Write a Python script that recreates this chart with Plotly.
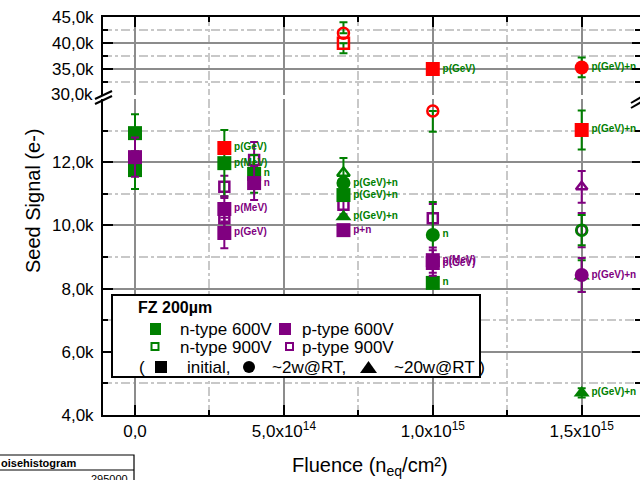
import plotly.graph_objects as go

# ---------------- data ----------------
# n-type 600V (green, filled)
N600_X = [0, 0, 3e14, 4e14, 7e14, 7e14, 7e14, 1e15, 1e15, 1.5e15, 1.5e15]
N600_Y = [12920, 11750, 11970, 11630, 11340, 10960, 10270, 9700, 8180, 8400, 4700]
N600_SYM = ['square', 'square', 'square', 'square', 'circle', 'square', 'triangle-up',
            'circle', 'square', 'triangle-up', 'triangle-up']
N600_ERR = [600, 600, 1050, 600, 0, 0, 0, 1040, 0, 500, 150]
N600_LBL = ['', '', 'p(MeV)', 'n', 'p(GeV)+n', 'p(GeV)+n', 'p(GeV)+n', 'n', 'n', '', 'p(GeV)+n']

# p-type 600V (purple, filled)
P600_X = [0, 3e14, 3e14, 4e14, 7e14, 1e15, 1e15, 1.5e15]
P600_Y = [12160, 10520, 9760, 11340, 9850, 8900, 8810, 8430]
P600_SYM = ['square', 'square', 'square', 'square', 'square', 'square', 'square', 'circle']
P600_ERR = [620, 400, 480, 540, 0, 400, 400, 540]
P600_LBL = ['', 'p(MeV)', 'p(GeV)', 'n', 'p+n', 'p(MeV)', 'p(GeV)', 'p(GeV)+n']

# n-type 900V (green, open)
N900_X = [7e14, 1.5e15]
N900_Y = [11660, 9850]
N900_SYM = ['triangle-up-open', 'circle-open']
N900_ERR = [470, 480]

# p-type 900V (purple, open)
P900_X = [3e14, 3e14, 4e14, 7e14, 1e15, 1.5e15, 1.5e15]
P900_Y = [11220, 10230, 12070, 10650, 10230, 11220, 9850]
P900_SYM = ['square-open', 'square-open', 'square-open', 'square-open', 'square-open',
            'triangle-up-open', 'circle-open']
P900_ERR = [350, 350, 570, 300, 450, 500, 540]

# red, filled
REDF_X = [3e14, 1e15, 1.5e15, 1.5e15]
REDF_Y = [12450, 35000, 35300, 13020]
REDF_SYM = ['square', 'square', 'circle', 'square']
REDF_ERR = [0, 400, 1900, 620]
REDF_LBL = ['p(GeV)', 'p(GeV)', 'p(GeV)+n', 'p(GeV)+n']

# red, open
REDO_X = [7e14, 7e14, 1e15]
REDO_Y = [41870, 39940, 13620]
REDO_SYM = ['circle-open', 'square-open', 'circle-open']
REDO_ERR_UP = [2100, 0, 0]
REDO_ERR_DN = [0, 1900, 660]

X_TICKS = [0, 5e14, 1e15, 1.5e15]
X_TICKTEXT = ['0,0', '5,0x10<sup>14</sup>', '1,0x10<sup>15</sup>', '1,5x10<sup>15</sup>']
X_MINOR = [2.5e14, 7.5e14, 1.25e15]
YLO_TICKS = [4000, 6000, 8000, 10000, 12000]
YLO_TICKTEXT = ['4,0k', '6,0k', '8,0k', '10,0k', '12,0k']
YLO_MINOR = [5000, 7000, 9000, 11000, 13000]
YUP_TICKS = [35000, 40000, 45000]
YUP_TICKTEXT = ['35,0k', '40,0k', '45,0k']
YUP_MINOR = [32500, 37500, 42500]

GREEN = '#008000'
PURPLE = '#800080'
RED = '#ff0000'
FONT = 'Liberation Sans, Arial, sans-serif'

# ---------------- geometry ----------------
W, H = 640, 480
ML, MR, MT, MB = 103, 0, 17, 65
PW, PH = W - ML - MR, H - MT - MB


def PX(px):
    return (px - ML) / PW


def PY(py):
    return (H - MB - py) / PH


SPLIT = 20000

fig = go.Figure()


def add_series(xs, ys, syms, ep, em, lbls, color, size, lw, ecolor, tcolor):
    for upper in (False, True):
        idx = [i for i, v in enumerate(ys) if (v > SPLIT) == upper]
        if not idx:
            continue
        fig.add_trace(go.Scatter(
            x=[xs[i] for i in idx], y=[ys[i] for i in idx],
            yaxis='y2' if upper else 'y',
            mode='markers+text',
            text=[lbls[i] for i in idx] if lbls else None,
            textposition='middle right',
            textfont=dict(family=FONT, size=10, color=tcolor, weight='bold'),
            marker=dict(symbol=[syms[i] for i in idx], size=size, color=color,
                        line=dict(width=lw, color=color)),
            error_y=dict(type='data', symmetric=False,
                         array=[ep[i] for i in idx], arrayminus=[em[i] for i in idx],
                         color=ecolor, thickness=2, width=4),
            cliponaxis=False, showlegend=False, hoverinfo='skip'))


add_series(REDO_X, REDO_Y, REDO_SYM, REDO_ERR_UP, REDO_ERR_DN, None, RED, 11, 2.5, GREEN, GREEN)
add_series(P900_X, P900_Y, P900_SYM, P900_ERR, P900_ERR, None, PURPLE, 10, 2.5, PURPLE, PURPLE)
add_series(N900_X, N900_Y, N900_SYM, N900_ERR, N900_ERR, None, GREEN, 11, 2.5, GREEN, GREEN)
add_series(N600_X, N600_Y, N600_SYM, N600_ERR, N600_ERR, N600_LBL, GREEN, 14, 0, GREEN, GREEN)
add_series(P600_X, P600_Y, P600_SYM, P600_ERR, P600_ERR, P600_LBL, PURPLE, 14, 0, PURPLE, PURPLE)
add_series(REDF_X, REDF_Y, REDF_SYM, REDF_ERR, REDF_ERR, REDF_LBL, RED, 14, 0, GREEN, GREEN)

# dummy traces to make the mirror axes draw
fig.add_trace(go.Scatter(x=[None], y=[None], xaxis='x2', yaxis='y2', showlegend=False))
fig.add_trace(go.Scatter(x=[None], y=[None], xaxis='x', yaxis='y3', showlegend=False))
fig.add_trace(go.Scatter(x=[None], y=[None], xaxis='x', yaxis='y4', showlegend=False))

XR = [-(135 - ML) / 148.9 * 5e14, (W - 135) / 148.9 * 5e14]
GRID_MAJ = '#8c8c8c'
GRID_MIN = '#c8c8c8'
tickfont = dict(family=FONT, size=17, color='black')

minor_common = dict(ticks='inside', ticklen=5, tickwidth=2, tickcolor='black',
                    showgrid=True, gridcolor=GRID_MIN, gridwidth=1.5, griddash='dashdot')

fig.update_layout(
    width=W, height=H, margin=dict(l=ML, r=MR, t=MT, b=MB),
    paper_bgcolor='white', plot_bgcolor='white',
    font=dict(family=FONT, color='black'),
    xaxis=dict(range=XR, tickmode='array', tickvals=X_TICKS, ticktext=X_TICKTEXT,
               tickfont=tickfont, ticks='inside', ticklen=10, tickwidth=2, tickcolor='black',
               showline=True, linewidth=2, linecolor='black', anchor='y',
               showgrid=True, gridcolor=GRID_MAJ, gridwidth=2, zeroline=False,
               minor=dict(tickmode='array', tickvals=X_MINOR, **minor_common)),
    xaxis2=dict(range=XR, overlaying='x', anchor='y2', side='top', tickmode='array',
                tickvals=X_TICKS, showticklabels=False, ticks='inside', ticklen=10,
                tickwidth=2, tickcolor='black', showline=True, linewidth=2,
                linecolor='black', showgrid=False, zeroline=False,
                minor=dict(tickmode='array', tickvals=X_MINOR, ticks='inside', ticklen=5,
                           tickwidth=2, tickcolor='black', showgrid=False)),
    yaxis=dict(domain=[0, PY(99)], range=[4000, 14000], tickmode='array',
               tickvals=YLO_TICKS, ticktext=YLO_TICKTEXT, tickfont=tickfont,
               ticks='inside', ticklen=10, tickwidth=2, tickcolor='black',
               ticklabelstandoff=4,
               showline=True, linewidth=2, linecolor='black', anchor='x',
               showgrid=True, gridcolor=GRID_MAJ, gridwidth=2, zeroline=False,
               minor=dict(tickmode='array', tickvals=YLO_MINOR, **minor_common)),
    yaxis2=dict(domain=[PY(95), 1], range=[30000, 45000], tickmode='array',
                tickvals=YUP_TICKS, ticktext=YUP_TICKTEXT, tickfont=tickfont,
                ticks='inside', ticklen=10, tickwidth=2, tickcolor='black',
                ticklabelstandoff=4,
                showline=True, linewidth=2, linecolor='black', anchor='x',
                showgrid=True, gridcolor=GRID_MAJ, gridwidth=2, zeroline=False,
                minor=dict(tickmode='array', tickvals=YUP_MINOR, **minor_common)),
    yaxis3=dict(overlaying='y', side='right', anchor='x', range=[4000, 14000],
                tickmode='array', tickvals=YLO_TICKS, showticklabels=False,
                ticks='inside', ticklen=8, tickwidth=2, tickcolor='black',
                showline=False, showgrid=False, zeroline=False,
                minor=dict(tickmode='array', tickvals=YLO_MINOR, ticks='inside',
                           ticklen=5, tickwidth=2, tickcolor='black', showgrid=False)),
    yaxis4=dict(overlaying='y2', side='right', anchor='x', range=[30000, 45000],
                tickmode='array', tickvals=YUP_TICKS, showticklabels=False,
                ticks='inside', ticklen=8, tickwidth=2, tickcolor='black',
                showline=False, showgrid=False, zeroline=False,
                minor=dict(tickmode='array', tickvals=YUP_MINOR, ticks='inside',
                           ticklen=5, tickwidth=2, tickcolor='black', showgrid=False)),
)

shapes = []
ann = []


def line(x0, y0, x1, y1, w=2, color='black'):
    shapes.append(dict(type='line', xref='paper', yref='paper', x0=PX(x0), y0=PY(y0),
                       x1=PX(x1), y1=PY(y1), line=dict(color=color, width=w), layer='above'))


def rect(x0, y0, x1, y1, fill=None, lw=0, color='black'):
    shapes.append(dict(type='rect', xref='paper', yref='paper', x0=PX(x0), y0=PY(y0),
                       x1=PX(x1), y1=PY(y1), fillcolor=fill if fill else 'rgba(0,0,0,0)',
                       line=dict(color=color, width=lw), layer='above'))


def text(x, y, s, size=17, xanchor='left', **kw):
    ann.append(dict(xref='paper', yref='paper', x=PX(x), y=PY(y), text=s, showarrow=False,
                    xanchor=xanchor, yanchor='middle',
                    font=dict(family=FONT, size=size, color='black'), **kw))


# axis break marks
rect(94, 95.5, 112, 98.5, fill='white')
line(95, 99, 112, 91)
line(95, 104, 112, 96)
line(631, 108, 643, 101)
line(631, 103, 643, 96)

# "30,0k" label at the break
text(95, 94, '30,0k', size=17, xanchor='right')

# axis titles
text(370, 466, 'Fluence (n<sub>eq</sub>/cm²)', size=20, xanchor='center')
ann.append(dict(xref='paper', yref='paper', x=PX(33), y=PY(201), text='Seed Signal (e-)',
                showarrow=False, textangle=-90, xanchor='center', yanchor='middle',
                font=dict(family=FONT, size=20, color='black')))

# legend box
rect(112, 377, 480, 295, fill='white', lw=2)
text(136, 307, '<b>FZ 200µm</b>', size=16)
rect(150, 335, 161, 323, fill=GREEN)
text(178, 329, 'n-type 600V')
rect(279, 335, 291, 323, fill=PURPLE)
text(300, 329, 'p-type 600V')
rect(151.5, 350, 158.5, 343, lw=2, color=GREEN)
text(178, 347, 'n-type 900V')
rect(286, 350, 293, 343, lw=2, color=PURPLE)
text(300, 347, 'p-type 900V')
text(137, 367, '(')
rect(155, 373, 167, 361, fill='black')
text(185, 367, 'initial,')
shapes.append(dict(type='circle', xref='paper', yref='paper', x0=PX(243), x1=PX(255),
                   y0=PY(373), y1=PY(361), fillcolor='black', line=dict(width=0),
                   layer='above'))
text(270, 367, '~2w@RT,')
shapes.append(dict(type='path', xref='paper', yref='paper', layer='above',
                   path='M {} {} L {} {} L {} {} Z'.format(PX(360), PY(373), PX(368.5), PY(361),
                                                          PX(377), PY(373)),
                   fillcolor='black', line=dict(width=0)))
text(392, 367, '~20w@RT )')

# partially visible stats box at bottom-left
rect(-5, 491, 134, 455, fill='white', lw=1.2)
line(-5, 470, 134, 470, w=1.2)
text(-1, 462.5, '<b>oisehistogram</b>', size=11)
text(130, 479, '295000', size=11, xanchor='right')

fig.update_layout(shapes=shapes, annotations=ann)
fig.write_html('out.html')
